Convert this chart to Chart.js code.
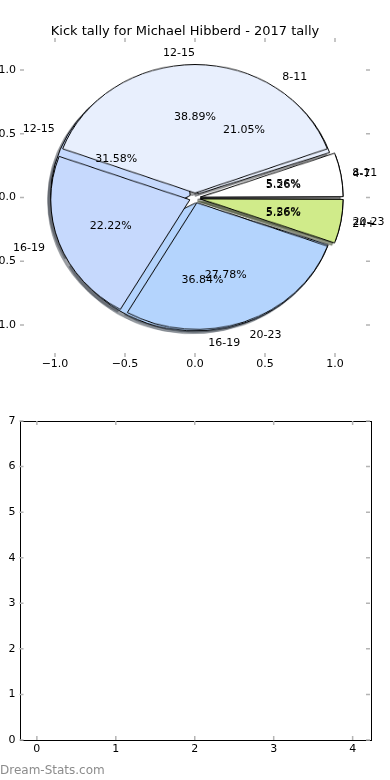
<!DOCTYPE html>
<html>
<head>
<meta charset="utf-8">
<script src="https://cdn.jsdelivr.net/npm/chart.js@4.4.1/dist/chart.umd.min.js"></script>
<style>
  html, body { margin: 0; padding: 0; background: #fff; }
  #wrap { position: relative; width: 390px; height: 780px; overflow: hidden; }
  canvas { position: absolute; }
  .pie { left: 35px; top: 37.5px; transform-origin: 50% 50%; transform: scaleY(0.9114); }
  .shadow { transform: translate(-2.8px, 2.55px) scaleY(0.9114); }
  #axes { left: 0; top: 0; z-index: 10; }
  #bars { left: 0; top: 390px; }
  #mark { position: absolute; left: 0; top: 763px; font: 12px "DejaVu Sans", sans-serif; color: #8c8c8c; }
</style>
</head>
<body>
<div id="wrap">
  <canvas id="shadow2" class="pie shadow" width="320" height="320"></canvas>
  <canvas id="shadow1" class="pie shadow" width="320" height="320"></canvas>
  <canvas id="pie2" class="pie" width="320" height="320"></canvas>
  <canvas id="pie1" class="pie" width="320" height="320"></canvas>
  <canvas id="axes" width="390" height="390"></canvas>
  <canvas id="bars" width="390" height="390"></canvas>
  <div id="mark">Dream-Stats.com</div>
</div>
<script>
const chartTitle = 'Kick tally for Michael Hibberd - 2017 tally';

// 2017 season (drawn on top)
const groups1 = ['8-11', '12-15', '16-19', '20-23', '24+'];
const kicks1 = [1, 7, 4, 5, 1];

// second pie, drawn underneath
const groups2 = ['4-7', '8-11', '12-15', '16-19', '20-23'];
const kicks2 = [1, 4, 6, 7, 1];

const sliceColors = ['#ffffff', '#e8effd', '#c6d9fd', '#b4d4fd', '#d0eb8a'];

const pieTicks = [-1, -0.5, 0, 0.5, 1];
const barTicksX = [0, 1, 2, 3, 4];
const barTicksY = [0, 1, 2, 3, 4, 5, 6, 7];

const EXPLODE = 0.04;

Chart.defaults.font.family = '"DejaVu Sans", sans-serif';
Chart.defaults.font.size = 11;
Chart.defaults.color = '#000';

function shade(hex) {
    const n = parseInt(hex.slice(1), 16);
    const r = (n >> 16) & 255, g = (n >> 8) & 255, b = n & 255;
    return `rgba(${Math.round(r * 0.3)},${Math.round(g * 0.3)},${Math.round(b * 0.3)},0.5)`;
}

// matplotlib goes counter-clockwise from 3 o'clock, so reverse and start at 90
function makePie(id, names, counts, colors, edge) {
    return new Chart(document.getElementById(id), {
        type: 'pie',
        data: {
            labels: names.slice().reverse(),
            datasets: [{
                data: counts.slice().reverse(),
                backgroundColor: colors.slice().reverse(),
                borderColor: edge || colors.slice().reverse(),
                borderWidth: 1,
                offset: 22
            }]
        },
        options: {
            responsive: false,
            animation: false,
            events: [],
            rotation: 90,
            radius: 139,
            layout: { padding: 0 },
            plugins: { legend: { display: false }, tooltip: { enabled: false } }
        }
    });
}

makePie('shadow2', groups2, kicks2, sliceColors.map(shade));
makePie('shadow1', groups1, kicks1, sliceColors.map(shade));
makePie('pie2', groups2, kicks2, sliceColors, '#000');
makePie('pie1', groups1, kicks1, sliceColors, '#000');

// grey inward ticks on every side, optional black frame
const innerTicks = {
    id: 'innerTicks',
    afterDraw(chart, args, opts) {
        const { ctx, chartArea: a, scales: { x, y } } = chart;
        ctx.save();
        if (opts.frame) {
            ctx.strokeStyle = '#000';
            ctx.lineWidth = 1;
            ctx.strokeRect(Math.round(a.left) + 0.5, Math.round(a.top) + 0.5,
                Math.round(a.right - a.left), Math.round(a.bottom - a.top));
        }
        ctx.strokeStyle = '#b4b4b4';
        ctx.lineWidth = 1.5;
        ctx.beginPath();
        x.ticks.forEach(t => {
            const px = x.getPixelForValue(t.value);
            ctx.moveTo(px, a.top); ctx.lineTo(px, a.top + 4);
            ctx.moveTo(px, a.bottom); ctx.lineTo(px, a.bottom - 4);
        });
        y.ticks.forEach(t => {
            const py = y.getPixelForValue(t.value);
            ctx.moveTo(a.left, py); ctx.lineTo(a.left + 4, py);
            ctx.moveTo(a.right, py); ctx.lineTo(a.right - 4, py);
        });
        ctx.stroke();
        ctx.restore();
    }
};

// slice names and percentages, placed like matplotlib's pie()
const pieText = {
    id: 'pieText',
    afterDraw(chart) {
        const { ctx, scales: { x, y } } = chart;
        ctx.save();
        ctx.font = '11px "DejaVu Sans", sans-serif';
        ctx.fillStyle = '#000';
        ctx.textBaseline = 'middle';
        [[groups1, kicks1], [groups2, kicks2]].forEach(([names, counts]) => {
            const total = counts.reduce((s, v) => s + v, 0);
            let acc = 0;
            counts.forEach((v, i) => {
                const mid = 2 * Math.PI * (acc + v / 2) / total;
                acc += v;
                const cx = Math.cos(mid), cy = Math.sin(mid);
                const lr = EXPLODE + 1.1, pr = EXPLODE + 0.6;
                ctx.textAlign = cx > 1e-9 ? 'left' : 'right';
                ctx.fillText(names[i], x.getPixelForValue(lr * cx), y.getPixelForValue(lr * cy) + 1);
                ctx.textAlign = 'center';
                ctx.fillText((100 * v / total).toFixed(2) + '%',
                    x.getPixelForValue(pr * cx), y.getPixelForValue(pr * cy) + 1);
            });
        });
        ctx.restore();
    }
};

const fmt = v => v.toFixed(1).replace('-', '\u2212');

new Chart(document.getElementById('axes'), {
    type: 'scatter',
    data: { datasets: [] },
    options: {
        responsive: false,
        animation: false,
        events: [],
        layout: { padding: { top: 0, right: 20, left: 0, bottom: 0 } },
        scales: {
            x: {
                type: 'linear', min: -1.25, max: 1.25,
                afterBuildTicks: ax => { ax.ticks = pieTicks.map(v => ({ value: v })); },
                afterFit: ax => { ax.height = 33; },
                grid: { display: false, drawTicks: false }, border: { display: false },
                ticks: { padding: 1, callback: v => fmt(v) }
            },
            y: {
                type: 'linear', min: -1.25, max: 1.25,
                afterBuildTicks: ax => { ax.ticks = pieTicks.map(v => ({ value: v })); },
                afterFit: ax => { ax.width = 20; },
                grid: { display: false, drawTicks: false }, border: { display: false },
                ticks: { padding: 4, callback: v => fmt(v) }
            }
        },
        plugins: {
            legend: { display: false },
            tooltip: { enabled: false },
            title: {
                display: true, text: chartTitle, color: '#000',
                font: { size: 13, weight: 'normal' },
                padding: { top: 24, bottom: -1.6 }
            },
            innerTicks: { frame: false }
        }
    },
    plugins: [innerTicks, pieText]
});

new Chart(document.getElementById('bars'), {
    type: 'scatter',
    data: { datasets: [{ data: [] }] },
    options: {
        responsive: false,
        animation: false,
        events: [],
        layout: { padding: { top: 31, right: 20, left: 0, bottom: 0 } },
        scales: {
            x: {
                type: 'linear', min: -0.22, max: 4.22,
                afterBuildTicks: ax => { ax.ticks = barTicksX.map(v => ({ value: v })); },
                afterFit: ax => { ax.height = 40; },
                grid: { display: false, drawTicks: false }, border: { display: false },
                ticks: { padding: 3, callback: v => String(v) }
            },
            y: {
                type: 'linear', min: 0, max: 7,
                afterBuildTicks: ax => { ax.ticks = barTicksY.map(v => ({ value: v })); },
                afterFit: ax => { ax.width = 19.5; },
                grid: { display: false, drawTicks: false }, border: { display: false },
                ticks: { padding: 4, callback: v => String(v) }
            }
        },
        plugins: {
            legend: { display: false },
            tooltip: { enabled: false },
            innerTicks: { frame: true }
        }
    },
    plugins: [innerTicks]
});
</script>
</body>
</html>
